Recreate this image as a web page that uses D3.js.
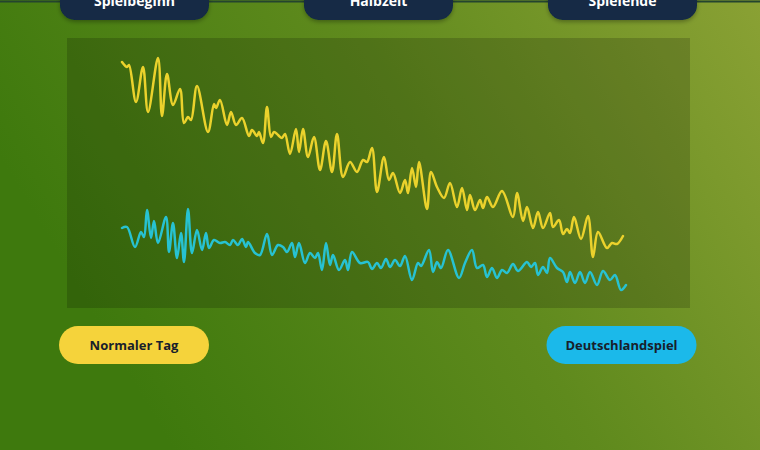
<!DOCTYPE html>
<html>
<head>
<meta charset="utf-8">
<script src="https://cdn.jsdelivr.net/npm/d3@7"></script>
<style>
html,body{margin:0;padding:0;background:#5a8a1a;}
svg{display:block;}
text{font-family:"Open Sans","Noto Sans",sans-serif;font-weight:700;}
</style>
</head>
<body>
<svg id="chart" width="760" height="450"></svg>
<script>
// Phase labels (top) and legend labels (bottom)
const phaseLabels = ["Spielbeginn", "Halbzeit", "Spielende"];
const legendLabels = ["Normaler Tag", "Deutschlandspiel"];

// Series: "Normaler Tag" (yellow)
const normalTime = [0,5,7,14,21,26,36,40,45,51,58,62,66,69,75,86,92,94,98,105,109,114,120,127,130,135,137,141,145,149,152,156,160,163,168,174,177,181,186,192,198,204,210,215,221,228,235,241,245,250,255,262,267,271,278,283,286,290,294,297,305,309,315,322,328,335,340,345,348,353,358,361,365,371,380,391,395,401,405,411,416,421,428,431,437,441,445,448,452,459,466,471,476,485,490,495,501];
const normalValue = [246,241,243,206,241,196,250,192,234,203,219,185,191,188,222,176,204,200,208,183,196,183,190,172,178,172,176,165,201,171,176,173,170,174,154,179,156,179,151,171,138,167,136,174,131,146,136,148,146,160,116,151,128,135,115,128,115,140,121,146,99,136,121,110,125,101,120,98,113,98,108,100,111,101,117,91,115,87,101,80,96,80,95,81,88,74,79,75,91,69,92,51,76,60,65,64,72];

// Series: "Deutschlandspiel" (cyan)
const spielTime = [0,5,13,19,22,25,29,32,36,44,47,51,55,59,62,66,70,75,80,84,87,92,98,103,108,111,116,120,124,126,133,138,145,150,156,161,165,170,173,177,183,188,193,196,200,204,208,211,217,223,226,230,238,246,250,255,259,264,268,273,278,283,290,296,299,307,311,315,319,326,337,343,350,355,361,365,370,375,380,385,391,396,405,409,413,416,421,425,428,435,441,445,448,453,458,463,468,475,481,488,493,499,504];
const spielValue = [80,81,61,76,71,98,70,87,65,91,56,85,50,75,46,99,55,78,58,75,60,68,65,66,63,68,63,69,61,66,55,53,74,53,63,61,56,65,51,65,45,55,50,55,38,65,43,53,38,48,38,56,45,46,39,45,40,49,41,48,42,52,28,45,42,58,36,46,40,58,30,45,58,40,43,31,40,30,38,35,44,37,46,41,45,33,41,35,50,40,36,26,36,25,36,25,36,23,37,28,33,18,23];

const svg = d3.select("#chart");
const W = 760, H = 450;

// background gradient
const defs = svg.append("defs");
const bg = defs.append("linearGradient").attr("id","bg")
  .attr("x1","0").attr("y1","0.35").attr("x2","1").attr("y2","0");
bg.append("stop").attr("offset","0").attr("stop-color","#3e790d");
bg.append("stop").attr("offset","0.5").attr("stop-color","#5f8a1d");
bg.append("stop").attr("offset","1").attr("stop-color","#8aa134");

const sh = defs.append("filter").attr("id","sh").attr("x","-20%").attr("y","-50%").attr("width","140%").attr("height","200%");
sh.append("feDropShadow").attr("dx",0).attr("dy",2).attr("stdDeviation",2).attr("flood-color","#000").attr("flood-opacity",0.3);

svg.append("rect").attr("width",W).attr("height",H).attr("fill","url(#bg)");

// top line
svg.append("line").attr("x1",0).attr("x2",W).attr("y1",1.5).attr("y2",1.5)
  .attr("stroke","#24442e").attr("stroke-width",2);

// plot panel
svg.append("rect").attr("x",67).attr("y",38).attr("width",623).attr("height",270)
  .attr("fill","#000").attr("opacity",0.17);

// scales
const x = d3.scaleLinear().domain([0,503]).range([122,625]);
const y = d3.scaleLinear().domain([0,270]).range([308,38]);

const line = d3.line().x(d=>x(d[0])).y(d=>y(d[1])).curve(d3.curveCatmullRom.alpha(0.5));

const normal = normalTime.map((t,i)=>[t,normalValue[i]]);
const spiel = spielTime.map((t,i)=>[t,spielValue[i]]);

svg.append("path").datum(normal).attr("d",line)
  .attr("fill","none").attr("stroke","#ebd22c").attr("stroke-width",2.5)
  .attr("stroke-linejoin","round").attr("stroke-linecap","round");
svg.append("path").datum(spiel).attr("d",line)
  .attr("fill","none").attr("stroke","#27c2d2").attr("stroke-width",2.5)
  .attr("stroke-linejoin","round").attr("stroke-linecap","round");

// top phase pills
const pillX = d3.scalePoint().domain(phaseLabels).range([134.5,622.5]);
const tp = svg.append("g").selectAll("g").data(phaseLabels).join("g")
  .attr("transform",d=>`translate(${pillX(d)},0)`);
tp.append("rect").attr("x",-74.5).attr("y",-22).attr("width",149).attr("height",42)
  .attr("rx",15).attr("fill","#122a45").attr("filter","url(#sh)");
tp.append("text").attr("text-anchor","middle").attr("y",6).attr("fill","#fff")
  .attr("font-size",14).text(d=>d);

// bottom legend pills
const legColors = ["#f5d33b","#1bb9ea"];
const legX = d3.scaleOrdinal().domain(legendLabels).range([134, 621.5]);
const lp = svg.append("g").selectAll("g").data(legendLabels).join("g")
  .attr("transform",(d)=>`translate(${legX(d)},345)`);
lp.append("rect").attr("x",-75).attr("y",-19).attr("width",150).attr("height",38)
  .attr("rx",19).attr("fill",(d,i)=>legColors[i]);
lp.append("text").attr("text-anchor","middle").attr("dy","0.35em").attr("fill","#18202b")
  .attr("font-size",13).text(d=>d);
</script>
</body>
</html>
